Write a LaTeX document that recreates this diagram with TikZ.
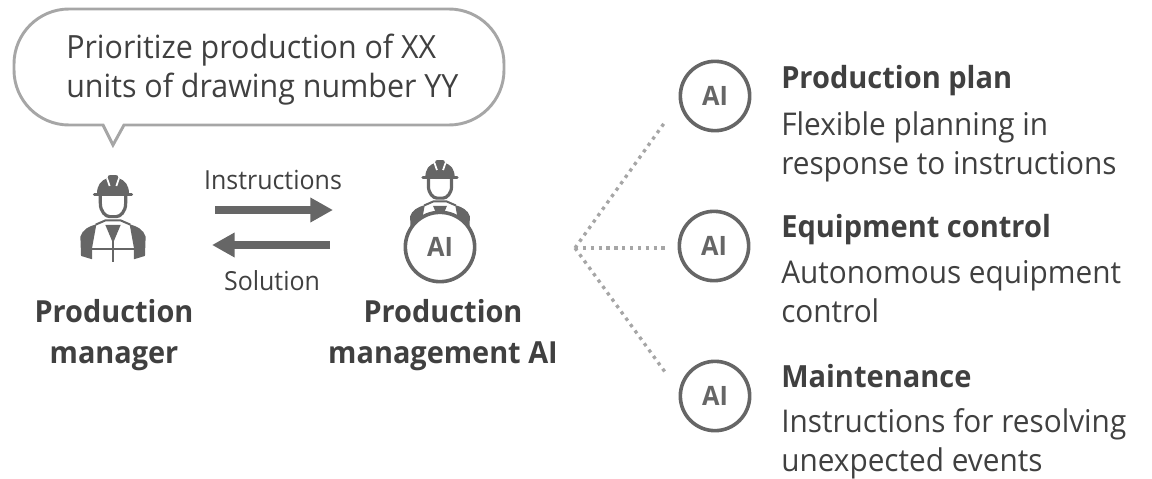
\documentclass[tikz,border=0pt]{standalone}
\usepackage{fontspec}
\setmainfont{Open Sans}[FakeStretch=0.95]
\usepackage{xcolor}
\usetikzlibrary{calc, arrows.meta}

\definecolor{icon grey}{HTML}{666666}
\definecolor{text grey}{HTML}{404040}
\definecolor{line grey}{HTML}{A6A6A6}

\tikzset{
	big text/.style = {text = text grey, inner sep = 0, align = left, anchor = base west, font = \fontsize{24}{29.25}\selectfont},
	body text/.style = {text = text grey, inner sep = 0, align = left, anchor = base west, font = \fontsize{23.5}{28.9}\selectfont},
	head text/.style = {text = text grey, inner sep = 0, align = left, anchor = base west, font = \fontsize{22.9}{30}\selectfont\bfseries},
	name text/.style = {text = text grey, inner sep = 0, align = center, anchor = base, font = \fontsize{22.8}{30.75}\selectfont\bfseries},
	small text/.style = {text = text grey, inner sep = 0, anchor = base, font = \fontsize{19.7}{23}\selectfont},
	ai circle/.style = {circle, draw = icon grey, fill = white, line width = 2.7pt, minimum size = 52pt, inner sep = 0, text = icon grey, font = \fontsize{20}{22}\selectfont\bfseries},
	fat arrow/.style = {draw = icon grey, line width = 6pt, -{Triangle[length = 17pt, width = 17.5pt]}},
	dot line/.style = {draw = line grey, line width = 2.5pt, dash pattern = on 2.5pt off 3.39pt},
	pics/worker/.style = {code = {
		\fill [icon grey] (-48,56) .. controls (-48,30) and (-36,16) .. (-16,9) -- (-14,2) -- (-8,0) -- (8,0) -- (14,2) -- (16,9) .. controls (36,16) and (48,30) .. (48,56) -- cycle;
		\draw [icon grey, line width = 2.2pt, line cap = round] (-56,58) -- (56,58);
		\draw [white, line width = 1.3pt] (-18,10) -- (-10,33);
		\draw [white, line width = 1.3pt] (18,10) -- (10,33);
		\draw [icon grey, line width = 2.4pt] (-38,62) -- (-38,85) .. controls (-38,110) and (-22,125) .. (-10,125) -- (10,125) .. controls (22,125) and (38,110) .. (38,85) -- (38,62);
		\fill [icon grey] (-98,185) .. controls (-92,165) and (-75,155) .. (-50,148) -- (-63,220) -- (-63,253) -- (-96,243) -- cycle;
		\fill [icon grey] (98,185) .. controls (92,165) and (75,155) .. (50,148) -- (63,220) -- (63,253) -- (96,243) -- cycle;
		\draw [icon grey, line width = 1.5pt] (-52,149) -- (-22,136) -- (22,136) -- (52,149);
		\fill [icon grey] (-23,150) -- (23,150) -- (2,200) -- (-2,200) -- cycle;
		\draw [icon grey, line width = 1.5pt] (0,190) -- (0,260);
		\draw [icon grey, line width = 1.5pt] (-63,223) -- (63,223);
	}}
}

\begin{document}
\begin{tikzpicture}[x=0.75pt, y=-0.75pt]
	\useasboundingbox (0,0) rectangle (1152,478);
	
	% speech bubble
	\draw [line grey, line width = 2.2pt] (124,125) -- (449,125) arc (90:0:55) -- (504,64) arc (0:-90:55) -- (69,9) arc (-90:-180:55) -- (14,70) arc (180:90:55) -- (103,125) -- (113,145) -- cycle;
	\node [big text] (request) at (66,98) {Prioritize production of XX\\units of drawing number YY};
	
	\pic [scale=0.333] at (113,175) {worker};
	\pic [scale=0.305] at (440,160) {worker};
	\node [ai circle] (ai main) at (440,247) {AI};
	
	\node [name text] (manager) at (114,363.5) {Production\\manager};
	\node [name text] (manager ai) at (443,363.5) {Production\\management AI};
	
	\node [small text] (instructions) at (273,189) {Instructions};
	\node [small text] (solution) at (272,290) {Solution};
	
	\coordinate (instr start) at (215,210);
	\coordinate (instr end) at (333,210);
	\coordinate (sol start) at (330,245);
	\coordinate (sol end) at (212,245);
	\draw [fat arrow] (instr start) -- (instr end);
	\draw [fat arrow] (sol start) -- (sol end);
	
	\coordinate (hub) at (575,248);
	\coordinate (hub plan) at (665,122);
	\coordinate (hub control) at (665,248);
	\coordinate (hub maint) at (665,372);
	\draw [dot line] (hub) -- (hub plan);
	\draw [dot line] (hub) -- (hub control);
	\draw [dot line] (hub) -- (hub maint);
	
	\node [ai circle] (ai plan) at (715,96) {AI};
	\node [head text] (head plan) at (781,89) {Production plan};
	\node [body text] (body plan) at (781,174.5) {Flexible planning in\\response to instructions};
	
	\node [ai circle] (ai control) at (714,246) {AI};
	\node [head text] (head control) at (781,237) {Equipment control};
	\node [body text] (body control) at (781,322) {Autonomous equipment\\control};
	
	\node [ai circle] (ai maint) at (715,396) {AI};
	\node [head text] (head maint) at (781,387) {Maintenance};
	\node [body text] (body maint) at (781,471) {Instructions for resolving\\unexpected events};
\end{tikzpicture}
\end{document}
